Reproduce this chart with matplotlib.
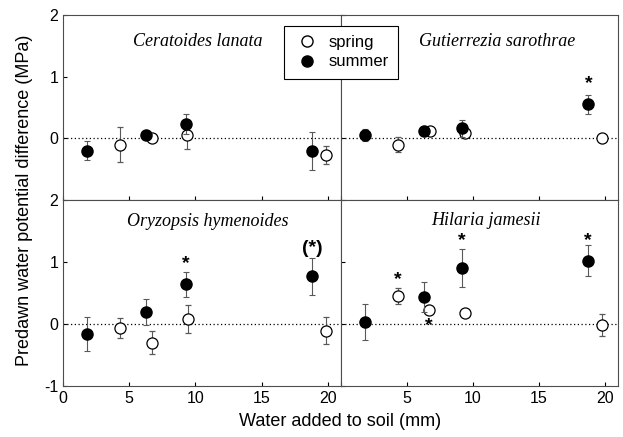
import matplotlib.pyplot as plt

plt.rcParams["font.family"] = ["Liberation Sans", "DejaVu Sans"]
plt.rcParams["axes.unicode_minus"] = False

species = ["Ceratoides lanata", "Gutierrezia sarothrae",
           "Oryzopsis hymenoides", "Hilaria jamesii"]

# x (mm water), y (MPa), error, per panel
spring_x = [[4.3, 6.7, 9.4, 19.85], [4.3, 6.76, 9.42, 19.77],
            [4.3, 6.7, 9.45, 19.85], [4.3, 6.66, 9.4, 19.77]]
spring_y = [[-0.1, 0.0, 0.05, -0.27], [-0.1, 0.12, 0.09, 0.0],
            [-0.07, -0.3, 0.08, -0.11], [0.45, 0.23, 0.17, -0.02]]
spring_e = [[0.29, 0.05, 0.23, 0.14], [0.12, 0.03, 0.05, 0.05],
            [0.16, 0.19, 0.23, 0.22], [0.13, 0.03, 0.0, 0.18]]

summer_x = [[1.8, 6.3, 9.27, 18.8], [1.83, 6.28, 9.17, 18.76],
            [1.8, 6.3, 9.27, 18.84], [1.81, 6.28, 9.14, 18.71]]
summer_y = [[-0.2, 0.05, 0.23, -0.2], [0.05, 0.12, 0.16, 0.55],
            [-0.16, 0.19, 0.64, 0.77], [0.04, 0.44, 0.9, 1.02]]
summer_e = [[0.15, 0.03, 0.16, 0.31], [0.1, 0.03, 0.14, 0.16],
            [0.27, 0.21, 0.2, 0.3], [0.29, 0.24, 0.31, 0.25]]

# significance marks: panel, x, y, text
marks = [(1, 18.76, 0.88, "*"),
         (2, 9.27, 0.97, "*"), (2, 18.84, 1.22, "(*)"),
         (3, 4.3, 0.71, "*"), (3, 6.66, -0.02, "*"),
         (3, 9.14, 1.35, "*"), (3, 18.71, 1.35, "*")]

title_pos = [(0.486, 0.855), (0.563, 0.855), (0.52, 0.885), (0.523, 0.89)]

fig = plt.figure(figsize=(6.23, 4.37), dpi=100)

L, M, R = 63 / 623, 341 / 623, 618 / 623
T, C, B = 1 - 15 / 437, 1 - 200 / 437, 1 - 386 / 437
rects = [(L, C, M - L, T - C), (M, C, R - M, T - C),
         (L, B, M - L, C - B), (M, B, R - M, C - B)]

for i, rect in enumerate(rects):
    ax = fig.add_axes(rect)
    ax.set_xlim(0, 21)
    ax.set_ylim(-1, 2)
    ax.axhline(0, color="black", linestyle=(0, (1, 2)), linewidth=0.9, zorder=1)
    ax.errorbar(spring_x[i], spring_y[i], yerr=spring_e[i], fmt="o",
                mfc="white", mec="black", mew=0.9, ms=8, ecolor="0.35",
                elinewidth=0.8, capsize=2, capthick=0.8, zorder=3)
    ax.errorbar(summer_x[i], summer_y[i], yerr=summer_e[i], fmt="o",
                mfc="black", mec="black", ms=8, ecolor="0.35",
                elinewidth=0.8, capsize=2, capthick=0.8, zorder=4)
    ax.text(title_pos[i][0], title_pos[i][1], species[i], transform=ax.transAxes,
            ha="center", va="center", fontsize=13, style="italic",
            family="Liberation Serif")
    for p, mx, my, s in marks:
        if p == i:
            ax.text(mx, my, s, ha="center", va="center", fontsize=14,
                    fontweight="bold")
    ax.tick_params(direction="in", length=3, width=0.8, labelsize=11.5)
    ax.set_xticks([0, 5, 10, 15, 20])
    if i < 2:
        ax.set_yticks([0, 1, 2])
        ax.set_xticklabels([])
    else:
        ax.set_yticks([-1, 0, 1, 2])
        if i == 3:
            ax.set_xticklabels(["", "5", "10", "15", "20"])
    if i % 2 == 1:
        ax.set_yticklabels([])
    for sp in ax.spines.values():
        sp.set_linewidth(0.8)
        sp.set_color("0.3")

h1 = plt.Line2D([], [], marker="o", ls="none", mfc="white", mec="black", ms=8)
h2 = plt.Line2D([], [], marker="o", ls="none", mfc="black", mec="black", ms=8)
leg = fig.legend([h1, h2], ["spring", "summer"], loc="upper left",
                 bbox_to_anchor=(284 / 623, 1 - 26 / 437), borderaxespad=0,
                 fancybox=False, edgecolor="black", framealpha=1, fontsize=12,
                 handletextpad=0.5, handlelength=1.6, borderpad=0.55,
                 labelspacing=0.25)
leg.get_frame().set_linewidth(0.8)

fig.text(0.04, (T + B) / 2, "Predawn water potential difference (MPa)",
         rotation=90, ha="center", va="center", fontsize=13)
fig.text((L + R) / 2, 0.035, "Water added to soil (mm)",
         ha="center", va="center", fontsize=13)

fig.savefig("out.png", dpi=100)
